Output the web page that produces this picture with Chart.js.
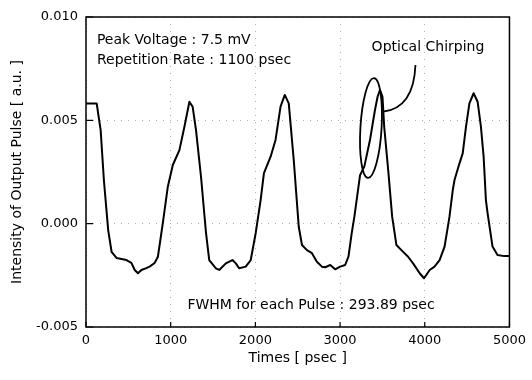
<!DOCTYPE html>
<html>
<head>
<meta charset="utf-8">
<script src="https://cdn.jsdelivr.net/npm/chart.js@4"></script>
<style>
  body { margin: 0; background: #fff; }
  #wrap { width: 532px; height: 380px; position: relative; }
</style>
</head>
<body>
<div id="wrap"><canvas id="myChart"></canvas></div>
<script>
// time axis in psec, intensity in a.u.
var timePs = [0, 126, 173, 211, 262, 302, 360, 478, 536, 575, 614, 654, 712, 751, 810, 849, 907, 966, 1025, 1103, 1162,
  1221, 1259, 1299, 1358, 1417, 1455, 1534, 1573, 1651, 1729, 1769, 1808, 1886, 1945, 2004, 2062, 2101, 2180, 2238, 2297,
  2347, 2394, 2453, 2512, 2550, 2609, 2668, 2726, 2785, 2825, 2884, 2942, 3001, 3060, 3099, 3137, 3169, 3236, 3286, 3353,
  3412, 3443, 3471, 3501, 3521, 3568, 3615, 3665, 3724, 3803, 3862, 3940, 3991, 4058, 4115, 4175, 4234, 4292, 4331,
  4351, 4410, 4448, 4487, 4527, 4577, 4624, 4663, 4695, 4722, 4742, 4800, 4859, 4938, 5000];
var intensity = [0.00582, 0.00582, 0.00453, 0.00211, -0.00031, -0.00136, -0.00166, -0.00176, -0.00190, -0.00224, -0.00240,
  -0.00224, -0.00215, -0.00208, -0.00190, -0.00160, 0.00003, 0.00179, 0.00284, 0.00356, 0.00469,
  0.00590, 0.00566, 0.00453, 0.00227, -0.00045, -0.00176, -0.00216, -0.00224, -0.00192, -0.00176,
  -0.00192, -0.00216, -0.00208, -0.00176, -0.00045, 0.00114, 0.00245, 0.00324, 0.00405, 0.00566,
  0.00623, 0.00582, 0.00308, -0.00015, -0.00103, -0.00128, -0.00143, -0.00184, -0.00208, -0.00211,
  -0.00200, -0.00221, -0.00208, -0.00200, -0.00160, -0.00047, 0.00034, 0.00235, 0.00276, 0.00405,
  0.00550, 0.00614, 0.00647, 0.00614, 0.00469, 0.00260, 0.00034, -0.00103, -0.00128,
  -0.00160, -0.00192, -0.00240, -0.00264, -0.00224, -0.00208, -0.00176, -0.00111, 0.00034, 0.00163,
  0.00211, 0.00292, 0.00340, 0.00469, 0.00582, 0.00631, 0.00590, 0.00469, 0.00324, 0.00114,
  0.00050, -0.00111, -0.00152, -0.00157, -0.00157];

var xTicks = [0, 1000, 2000, 3000, 4000, 5000];
var xTickLabels = ['0', '1000', '2000', '3000', '4000', '5000'];
var yTicks = [-0.005, 0.000, 0.005, 0.010];
var yTickLabels = ['-0.005', '0.000', '0.005', '0.010'];

// notes placed in data units
var notes = [
  {text: 'Peak Voltage : 7.5 mV', x: 129, y: 0.00889, align: 'left'},
  {text: 'Repetition Rate : 1100 psec', x: 129, y: 0.00792, align: 'left'},
  {text: 'Optical Chirping', x: 4038, y: 0.00855, align: 'center'},
  {text: 'FWHM for each Pulse : 293.89 psec', x: 1197, y: -0.00394, align: 'left'}
];
var chirpRing = {x: 3365, y: 0.00463, dx: 125, dy: 0.00242};
var chirpPointer = [[3890, 0.00768], [3870, 0.00560], [3509, 0.00542]];

var FONT = '"DejaVu Sans", Verdana, sans-serif';

var extras = {
  id: 'extras',
  afterDatasetsDraw: function(chart) {
    var ctx = chart.ctx;
    var xs = chart.scales.x, ys = chart.scales.y;
    var a = chart.chartArea;
    ctx.save();
    // frame
    ctx.strokeStyle = '#000';
    ctx.lineWidth = 1.5;
    ctx.strokeRect(a.left, a.top, a.right - a.left, a.bottom - a.top);
    // inward tick marks
    ctx.lineWidth = 1.2;
    ctx.beginPath();
    for (var t of xTicks) {
      var px = xs.getPixelForValue(t);
      ctx.moveTo(px, a.bottom);
      ctx.lineTo(px, a.bottom - 5);
    }
    for (var v of yTicks) {
      var py = ys.getPixelForValue(v);
      ctx.moveTo(a.left, py);
      ctx.lineTo(a.left + 7, py);
    }
    ctx.stroke();
    // ellipse marking the chirp
    var cx = xs.getPixelForValue(chirpRing.x), cy = ys.getPixelForValue(chirpRing.y);
    var rx = Math.abs(xs.getPixelForValue(chirpRing.x + chirpRing.dx) - cx);
    var ry = Math.abs(ys.getPixelForValue(chirpRing.y + chirpRing.dy) - cy);
    ctx.lineWidth = 1.8;
    ctx.beginPath();
    ctx.ellipse(cx, cy, rx, ry, 0.06, 0, Math.PI * 2);
    ctx.stroke();
    // pointer curve
    var p = chirpPointer.map(function(q) { return [xs.getPixelForValue(q[0]), ys.getPixelForValue(q[1])]; });
    ctx.beginPath();
    ctx.moveTo(p[0][0], p[0][1]);
    ctx.quadraticCurveTo(p[1][0], p[1][1], p[2][0], p[2][1]);
    ctx.stroke();
    // text notes
    ctx.fillStyle = '#000';
    ctx.font = '14px ' + FONT;
    ctx.textBaseline = 'middle';
    for (var n of notes) {
      ctx.textAlign = n.align;
      ctx.fillText(n.text, xs.getPixelForValue(n.x), ys.getPixelForValue(n.y));
    }
    ctx.restore();
  }
};

var ctx = document.getElementById('myChart').getContext('2d');
var myChart = new Chart(ctx, {
  type: 'line',
  data: {
    datasets: [{
      data: timePs.map(function(t, i) { return {x: t, y: intensity[i]}; }),
      borderColor: '#000',
      borderWidth: 2,
      pointRadius: 0,
      tension: 0,
      borderJoinStyle: 'round',
      fill: false
    }]
  },
  options: {
    responsive: true,
    maintainAspectRatio: false,
    animation: false,
    layout: {padding: {left: 0, right: 20, top: 17, bottom: 0}},
    plugins: {legend: {display: false}, tooltip: {enabled: false}},
    scales: {
      x: {
        type: 'linear', min: 0, max: 5000,
        afterBuildTicks: function(s) { s.ticks = xTicks.map(function(v) { return {value: v}; }); },
        afterFit: function(s) { s.height = 53; },
        grid: {color: '#b0b0b0', drawTicks: false, lineWidth: 1},
        border: {display: false, dash: [1, 6]},
        ticks: {
          color: '#000', padding: 6, maxRotation: 0, font: {family: FONT, size: 13},
          callback: function(v) { var i = xTicks.indexOf(v); return i >= 0 ? xTickLabels[i] : ''; }
        },
        title: {display: true, text: 'Times [ psec ]', color: '#000', font: {family: FONT, size: 14}, padding: {top: 0, bottom: 13}}
      },
      y: {
        type: 'linear', min: -0.005, max: 0.010,
        afterBuildTicks: function(s) { s.ticks = yTicks.map(function(v) { return {value: v}; }); },
        afterFit: function(s) { s.width = 86; },
        grid: {color: '#b0b0b0', drawTicks: false, lineWidth: 1},
        border: {display: false, dash: [1, 6]},
        ticks: {
          color: '#000', padding: 8, font: {family: FONT, size: 13},
          callback: function(v) { var i = yTicks.indexOf(v); return i >= 0 ? yTickLabels[i] : ''; }
        },
        title: {display: true, text: 'Intensity of Output Pulse [ a.u. ]', color: '#000', font: {family: FONT, size: 14}, padding: {top: 9, bottom: 0}}
      }
    }
  },
  plugins: [extras]
});
</script>
</body>
</html>
